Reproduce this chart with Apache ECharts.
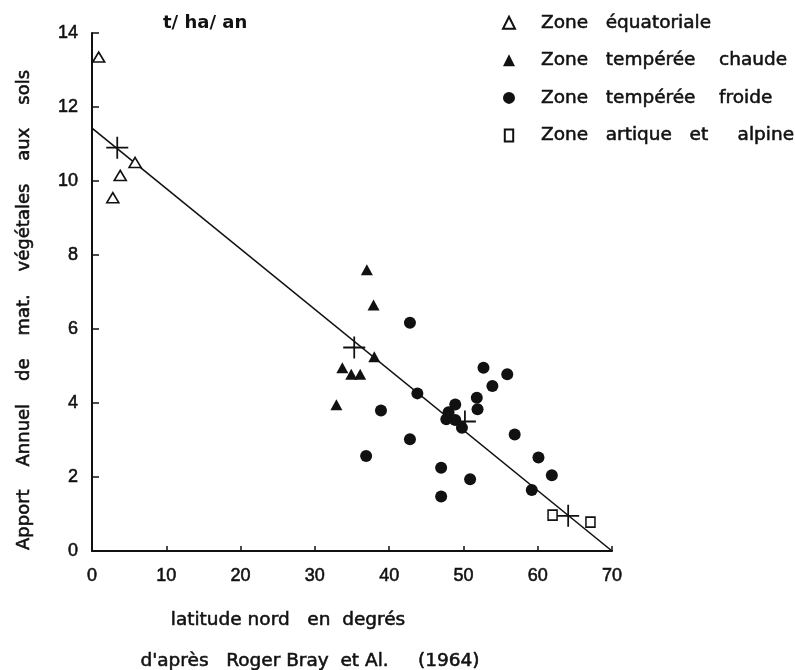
<!DOCTYPE html>
<html>
<head>
<meta charset="utf-8">
<script src="https://cdn.jsdelivr.net/npm/echarts@6/dist/echarts.min.js"></script>
<style>
html,body{margin:0;padding:0;background:#fff;}
#chart{width:795px;height:670px;}
</style>
</head>
<body>
<div id="chart"></div>
<script>
// ---- data ----
var seriesNames = ['Zone   équatoriale', 'Zone   tempérée    chaude', 'Zone   tempérée    froide', 'Zone   artique   et     alpine'];

// [latitude (°N), apport (t/ha/an)]
var equatorial = [[0.9, 13.35], [3.8, 10.15], [2.8, 9.55], [5.8, 10.5]];
var warmTemperate = [[37.0, 7.6], [37.9, 6.65], [38.0, 5.25], [33.7, 4.95], [34.9, 4.78], [36.1, 4.78], [32.9, 3.95]];
var coldTemperate = [
  [42.8, 6.17], [52.7, 4.95], [55.9, 4.78], [53.9, 4.46], [43.8, 4.26],
  [51.8, 4.14], [48.9, 3.96], [51.9, 3.83], [48.0, 3.75], [38.9, 3.8],
  [47.7, 3.56], [48.9, 3.54], [49.8, 3.33], [56.9, 3.15], [42.8, 3.02],
  [36.9, 2.57], [60.1, 2.53], [47.0, 2.25], [61.9, 2.05], [50.9, 1.94],
  [59.2, 1.65], [47.0, 1.47]
];
var arcticAlpine = [[62.0, 0.97], [67.1, 0.78]];
var zoneMeans = [[3.4, 10.9], [35.3, 5.5], [50.2, 3.5], [64.1, 0.95]];
var regression = [[0, 11.43], [70, 0]];

var xTicks = [0, 10, 20, 30, 40, 50, 60, 70];
var yTicks = [0, 2, 4, 6, 8, 10, 12, 14];

var unitLabel = 't/ ha/ an';
var yTitle = 'Apport    Annuel    de    mat.    végétales    aux    sols';
var xTitle = 'latitude nord   en  degrés';
var credit = "d'après   Roger Bray  et Al.     (1964)";

var FONT = '"Liberation Sans", Arial, Helvetica, sans-serif';
var TFONT = '"DejaVu Sans", Verdana, sans-serif';
var INK = '#111';
var HALO = 0.55; // thin same-colour outline to mimic the heavier printed strokes

var chart = echarts.init(document.getElementById('chart'), null, {renderer: 'canvas'});
var openStyle = {color: '#fff', borderColor: INK, borderWidth: 1.6, opacity: 1};
var fillStyle = {color: INK, borderColor: INK, borderWidth: 0, opacity: 1};

chart.setOption({
  animation: false,
  backgroundColor: '#fff',
  textStyle: {fontFamily: FONT, color: INK},
  graphic: [
    {type: 'text', left: 163, top: 14, silent: true,
     style: {text: unitLabel, font: 'bold 18px ' + TFONT, fill: INK}},
    {type: 'text', x: 24, y: 310, rotation: Math.PI / 2, silent: true,
     style: {text: yTitle, font: '18px ' + TFONT, fill: INK, stroke: INK, lineWidth: HALO, align: 'center', verticalAlign: 'middle'}},
    {type: 'text', x: 288, y: 620, silent: true,
     style: {text: xTitle, font: '18.5px ' + TFONT, fill: INK, stroke: INK, lineWidth: HALO, align: 'center', verticalAlign: 'middle'}},
    {type: 'text', x: 310, y: 661, silent: true,
     style: {text: credit, font: '18.5px ' + TFONT, fill: INK, stroke: INK, lineWidth: HALO, align: 'center', verticalAlign: 'middle'}}
  ],
  legend: {
    data: [
      {name: seriesNames[0], icon: 'triangle'},
      {name: seriesNames[1], icon: 'triangle'},
      {name: seriesNames[2], icon: 'circle'},
      {name: seriesNames[3], icon: 'path://M0,0 L7,0 L7,10 L0,10 Z'}
    ],
    orient: 'vertical',
    left: 497,
    top: 8,
    itemWidth: 12,
    itemHeight: 12,
    itemGap: 18,
    textStyle: {fontFamily: TFONT, fontSize: 18.5, color: INK, textBorderColor: INK, textBorderWidth: HALO, padding: [0, 0, 0, 21]},
    selectedMode: false
  },
  grid: {left: 92, right: 183, top: 33, bottom: 119, containLabel: false},
  xAxis: {
    type: 'value', min: 0, max: 70, interval: 10,
    axisLine: {show: true, onZero: false, lineStyle: {color: INK, width: 2}},
    axisTick: {show: true, inside: true, length: 5, lineStyle: {color: INK, width: 1.5}},
    axisLabel: {fontFamily: FONT, fontSize: 18, color: INK, textBorderColor: INK, textBorderWidth: HALO, margin: 16, formatter: function (v) { return xTicks.indexOf(v) >= 0 ? String(v) : ''; }},
    splitLine: {show: false}
  },
  yAxis: {
    type: 'value', min: 0, max: 14, interval: 2,
    axisLine: {show: true, onZero: false, lineStyle: {color: INK, width: 2}},
    axisTick: {show: true, inside: true, length: 7, lineStyle: {color: INK, width: 1.5}},
    axisLabel: {fontFamily: FONT, fontSize: 18, color: INK, textBorderColor: INK, textBorderWidth: HALO, margin: 14, formatter: function (v) { return yTicks.indexOf(v) >= 0 ? String(v) : ''; }},
    splitLine: {show: false}
  },
  series: [
    {name: 'régression', type: 'line', data: regression, showSymbol: false, silent: true,
     lineStyle: {color: INK, width: 1.6}, z: 1},
    {name: seriesNames[0], type: 'scatter', data: equatorial, symbol: 'triangle', symbolSize: [12, 10], itemStyle: openStyle, z: 3},
    {name: seriesNames[1], type: 'scatter', data: warmTemperate, symbol: 'triangle', symbolSize: [12, 11], itemStyle: fillStyle, z: 3},
    {name: seriesNames[2], type: 'scatter', data: coldTemperate, symbol: 'circle', symbolSize: 12, itemStyle: fillStyle, z: 3},
    {name: seriesNames[3], type: 'scatter', data: arcticAlpine, symbol: 'path://M0,0 L7,0 L7,8 L0,8 Z', symbolSize: [9, 10], itemStyle: openStyle, z: 3},
    {name: 'moyennes', type: 'scatter', data: zoneMeans,
     symbol: 'path://M9.2,0 h1.6 v9.2 h9.2 v1.6 h-9.2 v9.2 h-1.6 v-9.2 h-9.2 v-1.6 h9.2 z',
     symbolSize: 22, itemStyle: fillStyle, z: 4}
  ]
});
</script>
</body>
</html>
